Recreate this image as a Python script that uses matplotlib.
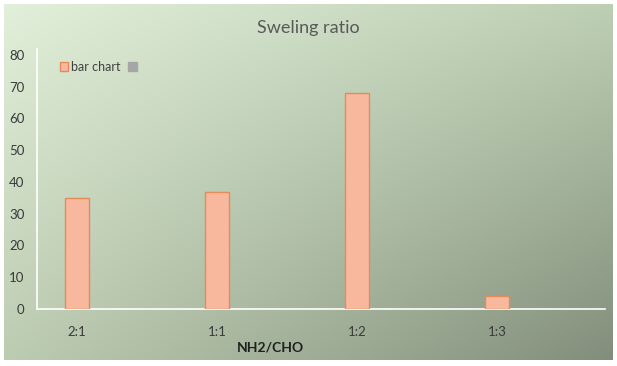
import numpy as np
import matplotlib.pyplot as plt
from matplotlib.patches import Patch

plt.rcParams["font.family"] = ["Lato", "DejaVu Sans"]

# data
categories = ["2:1", "1:1", "1:2", "1:3"]
swelling = [35, 37, 68, 4]
y_ticks = [0, 10, 20, 30, 40, 50, 60, 70, 80]

W, H = 617, 366
fig = plt.figure(figsize=(W / 100, H / 100), dpi=100)
fig.patch.set_facecolor("white")

# gradient background panel (light green top-left -> grey-green bottom-right)
bg = fig.add_axes([4 / W, 1 - 360 / H, 609 / W, 356 / H])
tl = np.array([0xE2, 0xEF, 0xDA]) / 255
tr = np.array([0xBD, 0xCF, 0xB3]) / 255
bl = np.array([0xBC, 0xCC, 0xB1]) / 255
br = np.array([0x82, 0x8E, 0x7B]) / 255
u = np.linspace(0, 1, 300)[None, :, None]
v = np.linspace(0, 1, 180)[:, None, None]
img = (1 - u) * (1 - v) * tl + u * (1 - v) * tr + (1 - u) * v * bl + u * v * br
bg.imshow(img, aspect="auto", extent=[0, 1, 0, 1], interpolation="bilinear")
bg.axis("off")

# plotting axes: y axis at x=37px, x axis at y=309px, 80 at y=55px
x0, x1 = 37, 605
y_bot = 309
ax = fig.add_axes([x0 / W, 1 - y_bot / H, (x1 - x0) / W, (y_bot - 55) / H])
ax.patch.set_alpha(0)

pos = np.arange(len(categories))
ax.bar(pos, swelling, width=0.17, color="#f8b89e", edgecolor="#e38c5a", linewidth=1.0, zorder=3)

ax.set_xlim(-0.286, 3.77)
ax.set_ylim(0, 80)
ax.set_yticks(y_ticks)
ax.set_xticks(pos)
ax.set_xticklabels(categories)
ax.tick_params(axis="both", length=0, labelsize=9.5, colors="#3a3a3a")
ax.tick_params(axis="x", pad=12)
ax.tick_params(axis="y", pad=9)

for side in ["top", "right"]:
    ax.spines[side].set_visible(False)
for side in ["left", "bottom"]:
    ax.spines[side].set_color("white")
    ax.spines[side].set_linewidth(1.2)
ax.spines["left"].set_bounds(0, 82)

ax.set_xlabel("NH2/CHO", fontsize=10, fontweight="bold", color="#202020")
ax.xaxis.set_label_coords((270 - x0) / (x1 - x0), -(348 - y_bot) / (y_bot - 55))
ax.xaxis.label.set_va("center")

fig.text(308 / W, 1 - 28 / H, "Sweling ratio", ha="center", va="center",
         fontsize=13, color="#595959")

handles = [Patch(facecolor="#f8b89e", edgecolor="#e38c5a", label="bar chart"),
           Patch(facecolor="#a6a6a6", edgecolor="#a6a6a6", label=" ")]
leg = ax.legend(handles=handles, loc="upper left", bbox_to_anchor=(0.02, 1.02), ncol=2,
                frameon=False, fontsize=9, handlelength=0.7, handleheight=0.7,
                handletextpad=0.2, columnspacing=0.6, labelcolor="#404040")

fig.savefig("out.png", dpi=100)
